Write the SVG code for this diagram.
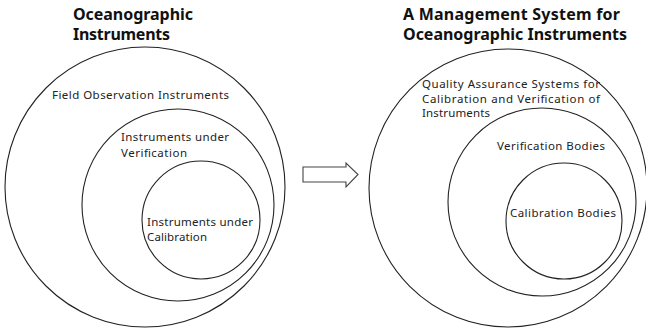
<svg xmlns="http://www.w3.org/2000/svg" width="646" height="332" viewBox="0 0 646 332">
  <style>
    .ring { fill: none; stroke: #222; stroke-width: 1.1; }
    .title { font-family: "Noto Sans", "Liberation Sans", sans-serif; font-weight: bold; font-size: 16px; fill: #111; }
    .label { font-family: "Noto Sans", "Liberation Sans", sans-serif; font-size: 11.5px; fill: #222; }
    .arrow { fill: #fff; stroke: #444; stroke-width: 1.1; }
  </style>
  <rect width="646" height="332" fill="#fff"/>

  <!-- Left set: instruments -->
  <g id="left-title">
    <text class="title" x="73" y="20" textLength="120">Oceanographic</text>
    <text class="title" x="73" y="40" textLength="97">Instruments</text>
  </g>
  <g id="field-observation">
    <circle class="ring" cx="145" cy="187" r="140"/>
    <text class="label" x="52" y="99" textLength="177">Field Observation Instruments</text>
  </g>
  <g id="under-verification">
    <circle class="ring" cx="178" cy="205" r="96"/>
    <text class="label" x="121" y="141" textLength="108">Instruments under</text>
    <text class="label" x="121" y="157" textLength="66">Verification</text>
  </g>
  <g id="under-calibration">
    <circle class="ring" cx="201" cy="220" r="59"/>
    <text class="label" x="147" y="226" textLength="106">Instruments under</text>
    <text class="label" x="147" y="241" textLength="60">Calibration</text>
  </g>

  <!-- Block arrow between the two sets -->
  <g id="connectors">
    <path class="arrow" d="M303,167 H346 V163 L358,174.5 L346,187 V182 H303 Z"/>
  </g>

  <!-- Right set: management system -->
  <g id="right-title">
    <text class="title" x="403" y="20" textLength="217">A Management System for</text>
    <text class="title" x="403" y="40" textLength="224">Oceanographic Instruments</text>
  </g>
  <g id="quality-assurance">
    <circle class="ring" cx="508" cy="188" r="139"/>
    <text class="label" x="422" y="88" textLength="178">Quality Assurance Systems for</text>
    <text class="label" x="422" y="103" textLength="178">Calibration and Verification of</text>
    <text class="label" x="422" y="117" textLength="68">Instruments</text>
  </g>
  <g id="verification-bodies">
    <circle class="ring" cx="542" cy="202" r="94"/>
    <text class="label" x="497" y="150" textLength="108">Verification Bodies</text>
  </g>
  <g id="calibration-bodies">
    <circle class="ring" cx="564" cy="221" r="58"/>
    <text class="label" x="510" y="217" textLength="106">Calibration Bodies</text>
  </g>
</svg>
